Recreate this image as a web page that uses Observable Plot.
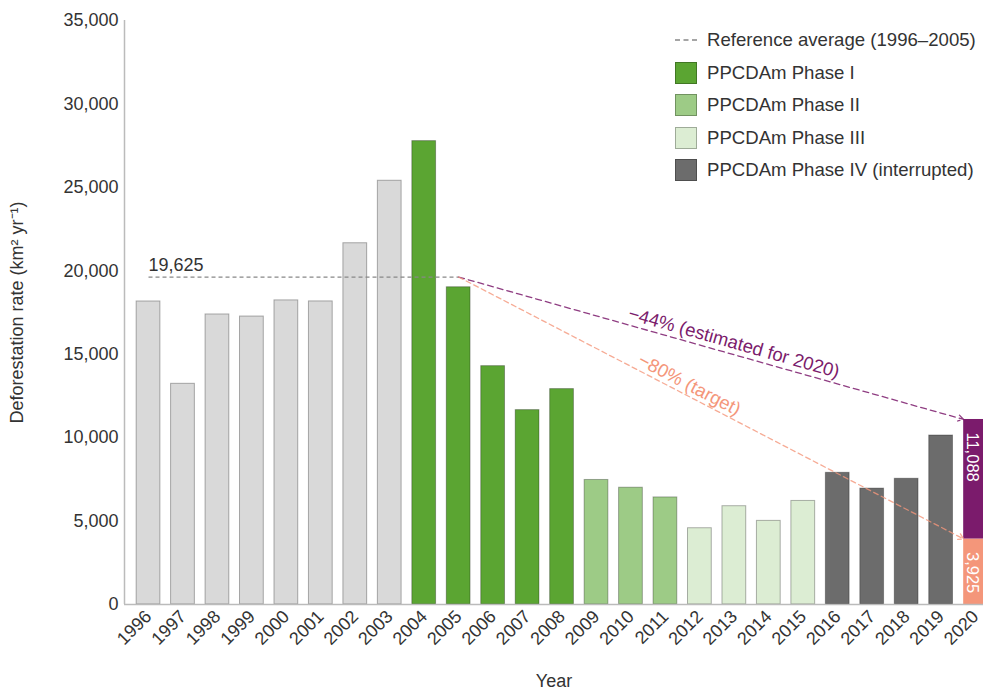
<!DOCTYPE html>
<html><head><meta charset="utf-8">
<script src="https://cdn.jsdelivr.net/npm/d3@7"></script>
<script src="https://cdn.jsdelivr.net/npm/@observablehq/plot@0.6"></script>
<style>
html,body{margin:0;padding:0;overflow:hidden;background:#fff;}
body{font-family:"Liberation Sans",Arial,Helvetica,sans-serif;}
#wrap{position:relative;width:983px;height:689px;}
#legend{position:absolute;left:675px;top:24px;font-size:18.6px;color:#333;}
.row{display:flex;align-items:center;height:32.5px;white-space:nowrap;}
.sw{width:22px;height:22px;box-sizing:border-box;border:1px solid rgba(0,0,0,0.28);margin-right:10px;flex:none;}
.dash{width:22px;height:4px;margin-right:10px;flex:none;display:block;}
</style></head><body><div id="wrap"><div id="legend"></div></div>
<script>
// ---- data ----
const years = [1996,1997,1998,1999,2000,2001,2002,2003,2004,2005,2006,2007,2008,2009,2010,2011,2012,2013,2014,2015,2016,2017,2018,2019,2020];
const rates = [18161,13227,17383,17259,18226,18165,21651,25396,27772,19014,14286,11651,12911,7464,7000,6418,4571,5891,5012,6207,7893,6947,7536,10129];
const phases = ["pre","pre","pre","pre","pre","pre","pre","pre","I","I","I","I","I","II","II","II","III","III","III","III","IV","IV","IV","IV"];
const phaseKeys = ["pre","I","II","III","IV"];
const phaseColors = ["#d9d9d9","#5ba532","#9dcb86","#dcedd3","#6c6c6c"];
const legendLabels = ["PPCDAm Phase I","PPCDAm Phase II","PPCDAm Phase III","PPCDAm Phase IV (interrupted)"];
const refLabel = "Reference average (1996\u20132005)";
const refAverage = 19625, refFrom = 1996, refTo = 2005;
const estimate2020 = 11088, target2020 = 3925, lastYear = 2020;
const estimateColor = "#7b1b6c", targetColor = "#f4967a";
const yTicks = [0,5000,10000,15000,20000,25000,30000,35000];
const arrowLabels = ["\u221244% (estimated for 2020)", "\u221280% (target)"];

// ---- layout ----
const W = 983, H = 689, mL = 124, mR = 0, mT = 20, mB = 85;
const xDomain = [1995.303, 2020.23];
const half = 0.345;
const pxYear = (W - mL - mR) / (xDomain[1] - xDomain[0]);
const pxUnit = (H - mT - mB) / 35000;

const bars = years.slice(0, rates.length).map((y, i) => ({year: y, rate: rates[i], phase: phases[i]}));
const stack2020 = [
  {year: lastYear, lo: 0, hi: target2020, color: targetColor, label: d3.format(",")(target2020)},
  {year: lastYear, lo: target2020, hi: estimate2020, color: estimateColor, label: d3.format(",")(estimate2020)}
];
const arrows = [
  {to: estimate2020, color: estimateColor, label: arrowLabels[0], t: 0.545, dash: "6,4", op: 0.85},
  {to: target2020, color: targetColor, label: arrowLabels[1], t: 0.457, dash: "5,3.5", op: 0.8}
].map(a => {
  const x1 = refTo, x2 = lastYear - half;
  const ang = Math.atan(((refAverage - a.to) * pxUnit) / ((x2 - x1) * pxYear)) * 180 / Math.PI;
  return {...a, x1, x2, y1: refAverage, lx: x1 + a.t * (x2 - x1), ly: refAverage + a.t * (a.to - refAverage), ang};
});

const plot = Plot.plot({
  width: W, height: H, marginLeft: mL, marginRight: mR, marginTop: mT, marginBottom: mB,
  style: {fontFamily: '"Liberation Sans", Arial, sans-serif', fontSize: "18px", color: "#333", background: "transparent"},
  x: {domain: xDomain, label: null},
  y: {domain: [0, 35000], label: null},
  color: {domain: phaseKeys, range: phaseColors},
  marks: [
    Plot.rectY(bars, {x1: d => d.year - half, x2: d => d.year + half, y1: 0, y2: "rate", fill: "phase", stroke: "#000", strokeOpacity: 0.3, strokeWidth: 1}),
    Plot.rectY(stack2020, {x1: d => d.year - half, x2: d => d.year + half, y1: "lo", y2: "hi", fill: "color"}),
    Plot.text(stack2020, {x: "year", y: "hi", text: "label", rotate: 90, textAnchor: "start", lineAnchor: "middle", dy: 13, dx: -3, fill: "white", fontSize: 16.5}),
    Plot.ruleX([xDomain[0]], {stroke: "#bbb", strokeWidth: 1.5}),
    Plot.ruleY([0], {stroke: "#bbb", strokeWidth: 1.5}),
    Plot.link([{x1: refFrom, x2: refTo, y: refAverage}], {x1: "x1", x2: "x2", y1: "y", y2: "y", stroke: "#888", strokeWidth: 1.3, strokeDasharray: "4,3"}),
    Plot.text([{x: refFrom, y: refAverage}], {x: "x", y: "y", text: d => d3.format(",")(d.y), textAnchor: "start", lineAnchor: "bottom", dy: -6, fill: "#333", fontSize: 18}),
    ...arrows.map(a => Plot.arrow([a], {x1: "x1", y1: "y1", x2: "x2", y2: "to", stroke: a.color, strokeOpacity: a.op, strokeDasharray: a.dash, strokeWidth: 1.3, headLength: 7, bend: 0})),
    Plot.text(arrows, {x: "lx", y: "ly", text: "label", rotate: "ang", fill: "color", dy: -12, fontSize: 18.5, textAnchor: "middle", lineAnchor: "middle"}),
    Plot.axisY({ticks: yTicks, tickFormat: d3.format(","), tickSize: 0, tickPadding: 6, fontSize: 18, label: "Deforestation rate (km\u00b2 yr\u207b\u00b9)", labelAnchor: "center", labelOffset: 114, labelArrow: "none", fill: "#333"}),
    Plot.axisX({ticks: years, tickFormat: d => String(d), tickRotate: -45, tickSize: 0, tickPadding: 9, fontSize: 18, label: "Year", labelAnchor: "center", labelOffset: 82, labelArrow: "none", fill: "#333"})
  ]
});
plot.style.position = "absolute"; plot.style.left = "0"; plot.style.top = "0";
const wrap = document.getElementById("wrap");
wrap.insertBefore(plot, wrap.firstChild);

// legend
const lg = document.getElementById("legend");
const r0 = document.createElement("div"); r0.className = "row";
r0.innerHTML = `<svg class="dash" viewBox="0 0 22 4"><line x1="0" y1="2" x2="22" y2="2" stroke="#888" stroke-width="1.3" stroke-dasharray="5,3.5"/></svg><span>${refLabel}</span>`;
lg.appendChild(r0);
legendLabels.forEach((t, i) => {
  const r = document.createElement("div"); r.className = "row";
  r.innerHTML = `<span class="sw" style="background:${phaseColors[i + 1]}"></span><span>${t}</span>`;
  lg.appendChild(r);
});
</script></body></html>
